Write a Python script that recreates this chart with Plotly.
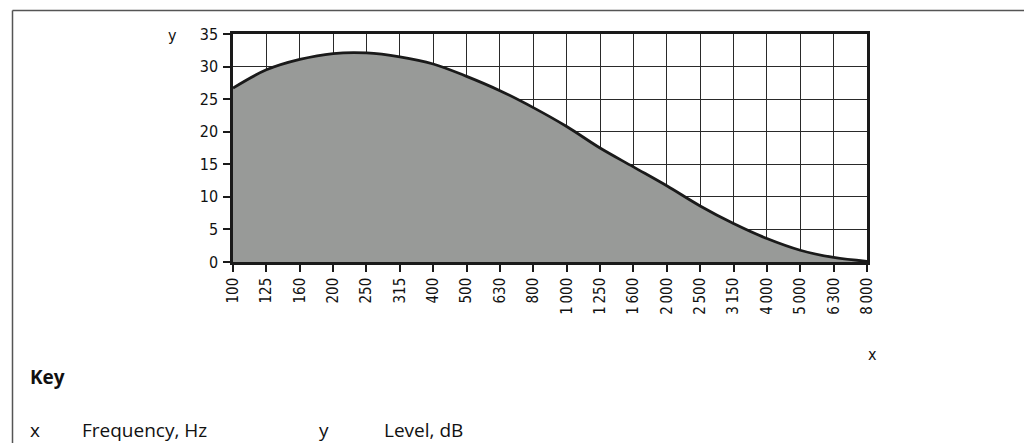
import plotly.graph_objects as go

freq_labels = ["100", "125", "160", "200", "250", "315", "400", "500", "630", "800",
               "1\u2009000", "1\u2009250", "1\u2009600", "2\u2009000", "2\u2009500",
               "3\u2009150", "4\u2009000", "5\u2009000", "6\u2009300", "8\u2009000"]
level_db = [26.7, 29.5, 31.1, 32.0, 32.1, 31.5, 30.4, 28.5, 26.3, 23.7,
            20.8, 17.5, 14.6, 11.7, 8.6, 5.9, 3.6, 1.8, 0.7, 0.1]
y_ticks = [0, 5, 10, 15, 20, 25, 30, 35]

# page body has an 8px margin, so the figure is drawn 8px in from the window corner
OFF = 8
W, H = 1032 - OFF, 443 - OFF
L, R, T, B = 233, 867, 34, 262  # plot area in window pixels


def px(x):
    return (x - L) / (R - L)


def py(y):
    return (B - y) / (B - T)


tick_font = dict(family="DejaVu Sans Condensed, Liberation Sans Narrow, sans-serif",
                 size=15, color="#111111")
key_font = dict(family="Open Sans, Noto Sans, sans-serif", size=19, color="#111111")

fig = go.Figure()
fig.add_trace(go.Scatter(
    x=freq_labels, y=level_db, mode="lines",
    line=dict(color="#1a1a1a", width=2.8, shape="spline"),
    fill="tozeroy", fillcolor="#989a98",
    hoverinfo="skip", showlegend=False,
))

fig.update_layout(
    width=W, height=H,
    margin=dict(l=L - OFF, r=W - (R - OFF), t=T - OFF, b=H - (B - OFF), pad=0),
    paper_bgcolor="white", plot_bgcolor="white",
    showlegend=False,
    xaxis=dict(
        type="category", range=[0, len(freq_labels) - 1],
        showgrid=True, gridcolor="#2a2a2a", gridwidth=1,
        showline=True, linecolor="#1a1a1a", linewidth=2.5, mirror=True,
        ticks="outside", ticklen=7, tickwidth=1.5, tickcolor="#1a1a1a",
        tickangle=-90, tickfont=tick_font, zeroline=False,
    ),
    yaxis=dict(
        range=[0, 35], tickvals=y_ticks,
        showgrid=True, gridcolor="#2a2a2a", gridwidth=1,
        showline=True, linecolor="#1a1a1a", linewidth=2.5, mirror=True,
        ticks="outside", ticklen=7, tickwidth=1.5, tickcolor="#1a1a1a",
        tickfont=dict(tick_font, size=16), zeroline=False, ticklabelstandoff=2,
    ),
)

# outer frame
frame = dict(color="#555555", width=1.5)
fig.add_shape(type="line", xref="paper", yref="paper",
              x0=px(12.5), x1=px(1031.3), y0=py(10.5), y1=py(10.5), line=frame)
fig.add_shape(type="line", xref="paper", yref="paper",
              x0=px(12.5), x1=px(12.5), y0=py(10.5), y1=py(460), line=frame)
fig.add_shape(type="line", xref="paper", yref="paper",
              x0=px(1031.3), x1=px(1031.3), y0=py(10.5), y1=py(460), line=frame)

ann = []
ann.append(dict(text="y", x=px(172), y=py(35), xanchor="center", yanchor="middle",
                font=dict(family=tick_font["family"], size=16, color="#111111")))
ann.append(dict(text="x", x=px(872), y=py(354), xanchor="center", yanchor="middle",
                font=dict(family=tick_font["family"], size=16, color="#111111")))
ann.append(dict(text="<b>Key</b>", x=px(28), y=py(377), xanchor="left", yanchor="middle",
                font=key_font))
ann.append(dict(text="x", x=px(28), y=py(430), xanchor="left", yanchor="middle",
                font=key_font))
ann.append(dict(text="Frequency, Hz", x=px(80), y=py(430), xanchor="left", yanchor="middle",
                font=key_font))
ann.append(dict(text="y", x=px(317), y=py(430), xanchor="left", yanchor="middle",
                font=key_font))
ann.append(dict(text="Level, dB", x=px(382), y=py(430), xanchor="left", yanchor="middle",
                font=key_font))
for a in ann:
    a.update(xref="paper", yref="paper", showarrow=False)
fig.update_layout(annotations=ann)

fig.write_html("out.html")
